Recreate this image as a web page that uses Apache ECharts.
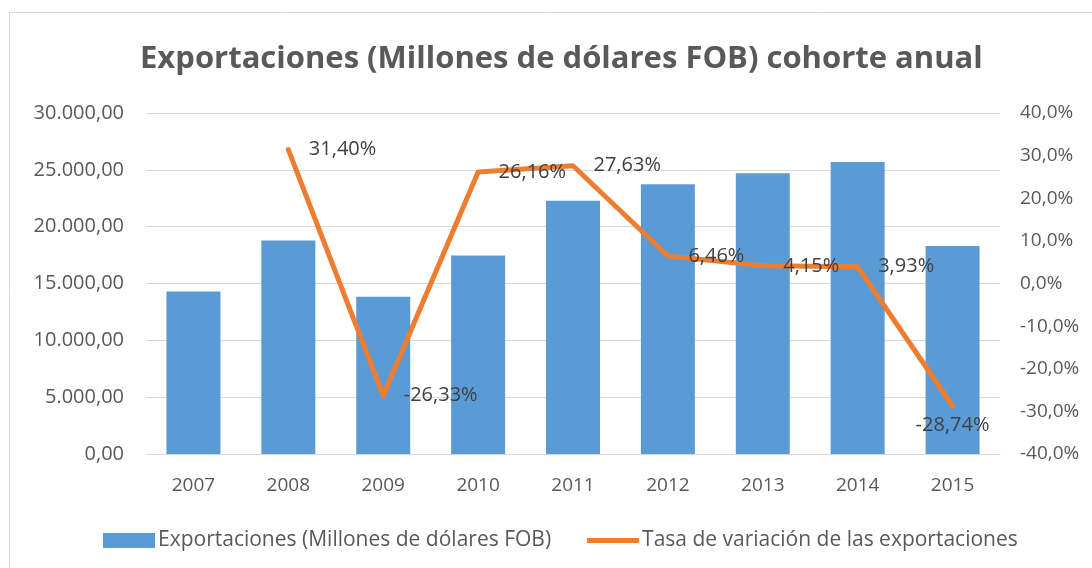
<!DOCTYPE html>
<html>
<head>
<meta charset="UTF-8">
<title>Exportaciones</title>
<script src="https://cdn.jsdelivr.net/npm/echarts@6/dist/echarts.min.js"></script>
<style>
html, body { margin: 0; padding: 0; background: #fff; }
#container { width: 1092px; height: 568px; }
</style>
</head>
<body>
	<div id="container"></div>
	<script type="text/javascript">
	var years = ['2007', '2008', '2009', '2010', '2011', '2012', '2013', '2014', '2015'];
	// Millones de dólares FOB
	var exportaciones = [14300, 18790, 13840, 17460, 22290, 23730, 24710, 25680, 18300];
	// tasa de variación (%)
	var tasa = [null, 31.40, -26.33, 26.16, 27.63, 6.46, 4.15, 3.93, -28.74];
	var leftTicks = [0, 5000, 30000];   // min, interval, max
	var rightTicks = [-40, 10, 40];     // min, interval, max

	function fmtMiles(v, dec) {
		var parts = v.toFixed(dec).split('.');
		var ent = parts[0].replace(/\B(?=(\d{3})+(?!\d))/g, '.');
		return dec > 0 ? ent + ',' + parts[1] : ent;
	}

	var fuente = 'Open Sans';
	var gris = '#595959';

	// el ultimo punto lleva la etiqueta debajo, como en el original
	var tasaData = tasa.map(function (v, i) {
		if (i === tasa.length - 1) {
			return { value: v, label: { position: 'bottom', distance: 9 } };
		}
		return v;
	});

	var dom = document.getElementById("container");
	var myChart = echarts.init(dom);
	var option = {
		animation: false,
		textStyle: { fontFamily: fuente },
		title: {
			text: 'Exportaciones (Millones de dólares FOB) cohorte anual',
			left: 135,
			top: 39,
			textStyle: { fontFamily: fuente, fontSize: 31, fontWeight: 'bold', color: gris }
		},
		graphic: [{
			type: 'rect',
			shape: { x: 9.5, y: 12.5, width: 1100, height: 600 },
			style: { fill: 'none', stroke: '#d9d9d9', lineWidth: 1 },
			silent: true
		}],
		legend: {
			bottom: 12,
			left: 98,
			itemGap: 36,
			itemWidth: 52,
			itemHeight: 15,
			textStyle: { fontFamily: fuente, fontSize: 21, color: gris, padding: [0, 0, 0, -2] },
			data: [
				{ name: 'Exportaciones (Millones de dólares FOB)', icon: 'rect' },
				{ name: 'Tasa de variación de las exportaciones', icon: 'path://M0 0H52V5H0Z' }
			]
		},
		grid: { left: 146, right: 92, top: 113, bottom: 114 },
		xAxis: [{
			type: 'category',
			data: years,
			axisLine: { show: true, lineStyle: { color: '#d9d9d9' } },
			axisTick: { show: false },
			axisLabel: { fontSize: 19, color: gris, margin: 22 }
		}],
		yAxis: [{
			type: 'value',
			min: leftTicks[0],
			interval: leftTicks[1],
			max: leftTicks[2],
			axisLine: { show: false },
			axisTick: { show: false },
			splitLine: { lineStyle: { color: '#d9d9d9', width: 1 } },
			axisLabel: {
				fontSize: 20, color: gris, margin: 22,
				formatter: function (v) { return fmtMiles(v, 2); }
			}
		}, {
			type: 'value',
			min: rightTicks[0],
			interval: rightTicks[1],
			max: rightTicks[2],
			axisLine: { show: false },
			axisTick: { show: false },
			splitLine: { show: false },
			axisLabel: {
				fontSize: 19, color: gris, margin: 20,
				formatter: function (v) { return v.toFixed(1).replace('.', ',') + '%'; }
			}
		}],
		series: [{
			name: 'Exportaciones (Millones de dólares FOB)',
			type: 'bar',
			yAxisIndex: 0,
			barWidth: 54,
			itemStyle: { color: '#5b9bd5' },
			data: exportaciones
		}, {
			name: 'Tasa de variación de las exportaciones',
			type: 'line',
			yAxisIndex: 1,
			symbol: 'circle',
			symbolSize: 1,
			showSymbol: true,
			connectNulls: false,
			lineStyle: { color: '#ed7d31', width: 5, cap: 'round', join: 'round' },
			itemStyle: { color: '#ed7d31' },
			label: {
				show: true,
				position: 'right',
				distance: 20,
				fontSize: 20,
				color: '#404040',
				formatter: function (p) { return p.value.toFixed(2).replace('.', ',') + '%'; }
			},
			data: tasaData
		}]
	};
	myChart.setOption(option);
    </script>
</body>
</html>
